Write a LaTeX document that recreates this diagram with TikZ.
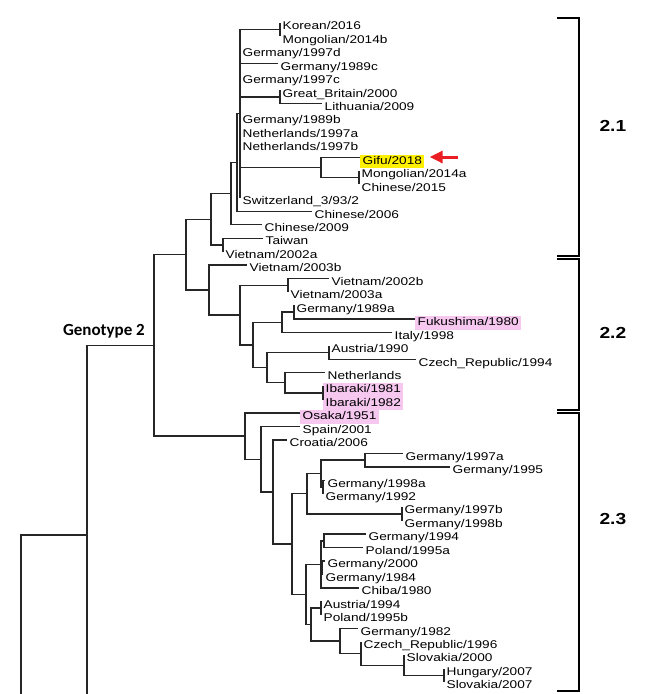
\documentclass[tikz,border=0pt]{standalone}
\usepackage{fontspec}
\setmainfont{Liberation Sans}
\newfontfamily\leaffont[FakeStretch=1.22]{Liberation Sans}
\newfontfamily\cladefont[FakeStretch=1.2]{Liberation Sans}
\newfontfamily\genofont{Carlito}
\usetikzlibrary{calc}
\usetikzlibrary{arrows.meta}
\definecolor{pinkhl}{RGB}{246,200,240}
\definecolor{yellowhl}{RGB}{255,240,0}
\definecolor{arrowred}{RGB}{235,30,35}

% leaf: \tip[style]{name}{tip x}{row}{label}
\newcommand\tip[5][]{%
  \coordinate (#2) at (#3,{23+13.45*#4});
  \node[leaf,#1] (#2-lbl) at (#2) {#5};}
% inner node at x, half way between its first and last child
\newcommand\clade[4]{%
  \path let \p1=($(#3)!0.5!(#4)$) in coordinate (#1) at (#2pt,\y1);}

\begin{document}
\begin{tikzpicture}[
		x=1pt, y=-1pt,
		% styles
		leaf/.style={anchor=west, yshift=-4pt, inner xsep=2.5pt, inner ysep=1.5pt,
			text height=8pt, text depth=2.5pt, font=\leaffont\fontsize{11.2}{13}\selectfont},
		pinkbox/.style={fill=pinkhl},
		yellowbox/.style={fill=yellowhl},
		branch/.style={line width=1.4pt, draw=black!85},
		bracket/.style={line width=1.4pt},
		sublabel/.style={anchor=west, font=\cladefont\bfseries\fontsize{16}{18}\selectfont},
		genolabel/.style={anchor=base east, inner sep=0pt, font=\genofont\bfseries\fontsize{17}{20}\selectfont},
		redarrow/.style={-{Triangle[length=13pt,width=12pt]}, line width=3pt, draw=arrowred, fill=arrowred},
		]
		\useasboundingbox (0,0) rectangle (661,694);

		% === Genotype 2.1 ===
		\tip{kor}{280}{0}{Korean/2016}
		\tip{mon14b}{280}{1}{Mongolian/2014b}
		\tip{ger97d}{240}{2}{Germany/1997d}
		\tip{ger89c}{278}{3}{Germany/1989c}
		\tip{ger97c}{240}{4}{Germany/1997c}
		\tip{gbr}{280}{5}{Great\_Britain/2000}
		\tip{lit}{322}{6}{Lithuania/2009}
		\tip{ger89b}{240}{7}{Germany/1989b}
		\tip{net97a}{240}{8}{Netherlands/1997a}
		\tip{net97b}{240}{9}{Netherlands/1997b}
		\tip[yellowbox]{gifu}{360}{10}{Gifu/2018}
		\tip{mon14a}{359}{11}{Mongolian/2014a}
		\tip{chn15}{359}{12}{Chinese/2015}
		\tip{swi}{240}{13}{Switzerland\_3/93/2}
		\tip{chn06}{312}{14}{Chinese/2006}
		\tip{chn09}{262}{15}{Chinese/2009}
		\tip{tai}{263}{16}{Taiwan}
		\tip{vie02a}{223}{17}{Vietnam/2002a}

		% === Genotype 2.2 ===
		\tip{vie03b}{247}{18}{Vietnam/2003b}
		\tip{vie02b}{329}{19}{Vietnam/2002b}
		\tip{vie03a}{288}{20}{Vietnam/2003a}
		\tip{ger89a}{294}{21}{Germany/1989a}
		\tip[pinkbox]{fuk}{415}{22}{Fukushima/1980}
		\tip{ita}{392}{23}{Italy/1998}
		\tip{aut90}{329}{24}{Austria/1990}
		\tip{cze94}{416}{25}{Czech\_Republic/1994}
		\tip{net}{325}{26}{Netherlands}
		\tip[pinkbox]{iba81}{323}{27}{Ibaraki/1981}
		\tip[pinkbox]{iba82}{323}{28}{Ibaraki/1982}

		% === Genotype 2.3 ===
		\tip[pinkbox]{osa}{300}{29}{Osaka/1951}
		\tip{spa}{300}{30}{Spain/2001}
		\tip{cro}{287}{31}{Croatia/2006}
		\tip{ger97a}{403}{32}{Germany/1997a}
		\tip{ger95}{450}{33}{Germany/1995}
		\tip{ger98a}{325}{34}{Germany/1998a}
		\tip{ger92}{323}{35}{Germany/1992}
		\tip{ger97b}{402}{36}{Germany/1997b}
		\tip{ger98b}{402}{37}{Germany/1998b}
		\tip{ger94}{366}{38}{Germany/1994}
		\tip{pol95a}{363}{39}{Poland/1995a}
		\tip{ger00}{325}{40}{Germany/2000}
		\tip{ger84}{323}{41}{Germany/1984}
		\tip{chi}{359}{42}{Chiba/1980}
		\tip{aut94}{321}{43}{Austria/1994}
		\tip{pol95b}{321}{44}{Poland/1995b}
		\tip{ger82}{358}{45}{Germany/1982}
		\tip{cze96}{361}{46}{Czech\_Republic/1996}
		\tip{slo00}{404}{47}{Slovakia/2000}
		\tip{hun07}{444}{48}{Hungary/2007}
		\tip{slo07}{444}{49}{Slovakia/2007}

		% === Inner nodes, bottom up ===
		\clade{kormon}{280}{kor}{mon14b}
		\clade{gbrlit}{280}{gbr}{lit}
		\clade{monchn}{359}{mon14a}{chn15}
		\clade{gifucl}{321}{gifu}{monchn}
		\clade{core}{240}{kormon}{swi}
		\clade{corechn}{237}{core}{chn06}
		\clade{corechn9}{231}{corechn}{chn09}
		\clade{taivie}{223}{tai}{vie02a}
		\clade{sub1}{211}{corechn9}{taivie}

		\clade{vietn}{288}{vie02b}{vie03a}
		\clade{gerfuk}{294}{ger89a}{fuk}
		\clade{gerita}{282}{gerfuk}{ita}
		\clade{autcze}{329}{aut90}{cze94}
		\clade{ibar}{323}{iba81}{iba82}
		\clade{netiba}{285}{net}{ibar}
		\clade{eurjap}{267}{autcze}{netiba}
		\clade{eurall}{253}{gerita}{eurjap}
		\clade{vieeur}{240}{vietn}{eurall}
		\clade{sub2}{209}{vie03b}{vieeur}
		\clade{upper}{186}{sub1}{sub2}

		\clade{ger9795}{365}{ger97a}{ger95}
		\clade{ger9892}{323}{ger98a}{ger92}
		\clade{gerx}{321}{ger9795}{ger9892}
		\clade{gery}{402}{ger97b}{ger98b}
		\clade{gerw}{307}{gerx}{gery}
		\clade{gerpol}{324}{ger94}{pol95a}
		\clade{ger0084}{322}{ger00}{ger84}
		\clade{gerchi}{321}{gerpol}{chi}
		\clade{autpol}{321}{aut94}{pol95b}
		\clade{hunslo}{444}{hun07}{slo07}
		\clade{slovak}{404}{slo00}{hunslo}
		\clade{czeslo}{361}{cze96}{slovak}
		\clade{gerslo}{340}{ger82}{czeslo}
		\clade{eastc}{311}{autpol}{gerslo}
		\clade{centr}{306}{gerchi}{eastc}
		\clade{eur}{292}{gerw}{centr}
		\clade{croeur}{273}{cro}{eur}
		\clade{spaeur}{261}{spa}{croeur}
		\clade{sub3}{245}{osa}{spaeur}
		\clade{geno}{154}{upper}{sub3}

		\coordinate (outer) at (87,535);
		\coordinate (outerlow) at (87,694);
		\coordinate (rootlow) at (21,694);

		% === Branches ===
		\foreach \pa/\ch in {kormon/kor, kormon/mon14b, gbrlit/gbr, gbrlit/lit,
				monchn/mon14a, monchn/chn15, gifucl/gifu, gifucl/monchn,
				core/kormon, core/ger97d, core/ger89c, core/ger97c, core/gbrlit,
				core/ger89b, core/net97a, core/net97b, core/gifucl, core/swi,
				corechn/core, corechn/chn06, corechn9/corechn, corechn9/chn09,
				taivie/tai, taivie/vie02a, sub1/corechn9, sub1/taivie,
				vietn/vie02b, vietn/vie03a, gerfuk/ger89a, gerfuk/fuk,
				gerita/gerfuk, gerita/ita, autcze/aut90, autcze/cze94,
				ibar/iba81, ibar/iba82, netiba/net, netiba/ibar,
				eurjap/autcze, eurjap/netiba, eurall/gerita, eurall/eurjap,
				vieeur/vietn, vieeur/eurall, sub2/vie03b, sub2/vieeur,
				upper/sub1, upper/sub2,
				ger9795/ger97a, ger9795/ger95, ger9892/ger98a, ger9892/ger92,
				gerx/ger9795, gerx/ger9892, gery/ger97b, gery/ger98b,
				gerw/gerx, gerw/gery, gerpol/ger94, gerpol/pol95a,
				ger0084/ger00, ger0084/ger84, gerchi/gerpol, gerchi/ger0084, gerchi/chi,
				autpol/aut94, autpol/pol95b, hunslo/hun07, hunslo/slo07,
				slovak/slo00, slovak/hunslo, czeslo/cze96, czeslo/slovak,
				gerslo/ger82, gerslo/czeslo, eastc/autpol, eastc/gerslo,
				centr/gerchi, centr/eastc, eur/gerw, eur/centr,
				croeur/cro, croeur/eur, spaeur/spa, spaeur/croeur,
				sub3/osa, sub3/spaeur, geno/upper, geno/sub3,
				outer/geno, rootlow/outer}
			\draw[branch] (\pa) |- (\ch);
		\draw[branch] (outer) -- (outerlow);

		% === Labels ===
		\node[genolabel] (geno-lbl) at (145,335) {Genotype 2};
		\foreach \k/\top/\bot/\ly in {1/18/256/126, 2/259/410/333, 3/413/691/519} {
			\draw[bracket] (557,\top) -- (579,\top) -- (579,\bot) -- (557,\bot);
			\node[sublabel] (sub\k-lbl) at (596,\ly) {2.\k};
		}

		% === Pointer to the new strain ===
		\coordinate (arrowtail) at (458,157);
		\draw[redarrow, shorten >=5pt] (arrowtail) -- (gifu-lbl.east |- arrowtail);
	\end{tikzpicture}
\end{document}
